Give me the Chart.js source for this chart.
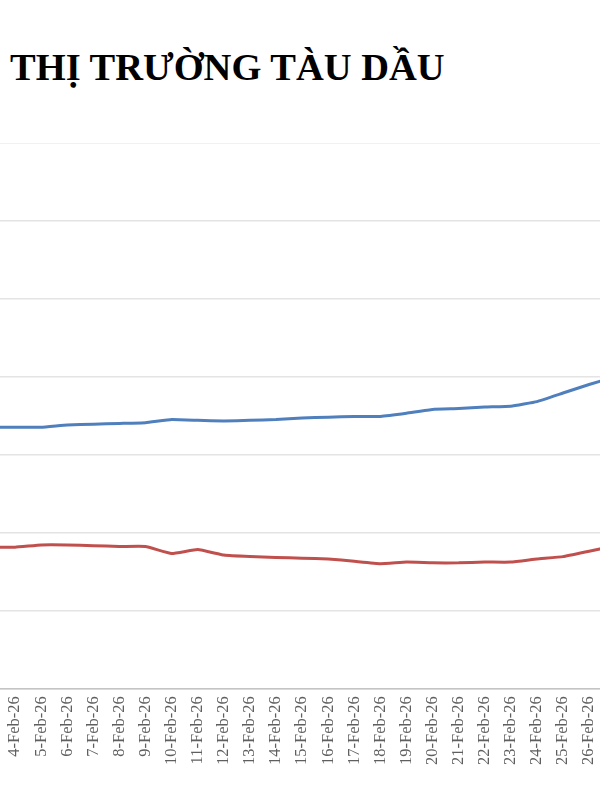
<!DOCTYPE html>
<html>
<head>
<meta charset="utf-8">
<script src="https://cdn.jsdelivr.net/npm/chart.js@4"></script>
<style>
  html, body { margin: 0; padding: 0; background: #fff; }
  #page { position: relative; width: 600px; height: 800px; overflow: hidden; background: #fff; }
  #title {
    position: absolute; left: 10px; top: 45px; margin: 0;
    font-family: "Liberation Serif", "Times New Roman", serif;
    font-weight: bold; font-size: 38.5px; color: #000; white-space: nowrap;
  }
  #holder { position: absolute; left: 0; top: 0; width: 1200px; height: 1000px; }
  #chart { position: absolute; }
</style>
</head>
<body>
<div id="page">
  <div id="holder"><canvas id="chart" width="660" height="800"></canvas></div>
  <h1 id="title">THỊ TRƯỜNG TÀU DẦU</h1>
</div>
<script>
'use strict';

var dates = ['3-Feb-26', '4-Feb-26', '5-Feb-26', '6-Feb-26', '7-Feb-26', '8-Feb-26',
  '9-Feb-26', '10-Feb-26', '11-Feb-26', '12-Feb-26', '13-Feb-26', '14-Feb-26',
  '15-Feb-26', '16-Feb-26', '17-Feb-26', '18-Feb-26', '19-Feb-26', '20-Feb-26',
  '21-Feb-26', '22-Feb-26', '23-Feb-26', '24-Feb-26', '25-Feb-26', '26-Feb-26', '27-Feb-26'];

var blueSeries = [33.5, 33.5, 33.5, 33.8, 33.9, 34.0, 34.1, 34.5, 34.4, 34.3, 34.4, 34.5,
  34.7, 34.8, 34.9, 34.9, 35.3, 35.8, 35.9, 36.1, 36.2, 36.8, 37.9, 39.0, 40.0];

var redSeries = [18.1, 18.1, 18.4, 18.4, 18.3, 18.2, 18.2, 17.3, 17.8, 17.1, 16.9, 16.8,
  16.7, 16.6, 16.3, 16.0, 16.2, 16.1, 16.1, 16.2, 16.2, 16.6, 16.9, 17.6, 18.3];

var yMin = 0;
var yMax = 70;
var yStep = 10;

// where things sit in the reference picture
var firstShownX = 15;     // 4-Feb-26
var spacing = 26.1;
var topY = 143;           // gridline for yMax
var axisY = 688;          // x axis line

var canvas = document.getElementById('chart');
var chart;

function makeChart() {
  return new Chart(canvas.getContext('2d'), {
    type: 'line',
    data: {
      labels: dates,
      datasets: [{
        data: blueSeries,
        borderColor: '#4f7fbc',
        borderWidth: 3,
        pointRadius: 0,
        tension: 0.1,
        fill: false
      }, {
        data: redSeries,
        borderColor: '#c0504d',
        borderWidth: 3,
        pointRadius: 0,
        tension: 0.1,
        fill: false
      }]
    },
    options: {
      responsive: false,
      animation: false,
      layout: { padding: 0 },
      plugins: {
        legend: { display: false },
        tooltip: { enabled: false },
        title: { display: false }
      },
      scales: {
        x: {
          grid: { display: false, drawTicks: false },
          border: { display: true, color: '#c4c4c4', width: 1.5 },
          ticks: {
            autoSkip: false,
            minRotation: 90,
            maxRotation: 90,
            padding: 8,
            color: '#5f5f5f',
            font: { family: '"Liberation Serif", "Times New Roman", serif', size: 16.5 }
          }
        },
        y: {
          min: yMin,
          max: yMax,
          ticks: { display: false, stepSize: yStep },
          grid: { color: '#e4e4e4', lineWidth: 1.5, drawTicks: false },
          border: { display: false }
        }
      }
    }
  });
}

chart = makeChart();

// fit the plot so its ticks land where they are in the picture
for (var pass = 0; pass < 2; pass++) {
  var xs = chart.scales.x;
  var ys = chart.scales.y;
  var dx = xs.getPixelForValue(1) - xs.getPixelForValue(0);
  var dy = ys.getPixelForValue(yMin) - ys.getPixelForValue(yMax);
  var w = Math.round(canvas.width + (dates.length - 1) * (spacing - dx));
  var h = Math.round(canvas.height + (axisY - topY) - dy);
  chart.destroy();
  canvas.width = w;
  canvas.height = h;
  chart = makeChart();
}

canvas.style.left = (firstShownX - chart.scales.x.getPixelForValue(1)) + 'px';
canvas.style.top = (topY - chart.scales.y.getPixelForValue(yMax)) + 'px';
</script>
</body>
</html>
